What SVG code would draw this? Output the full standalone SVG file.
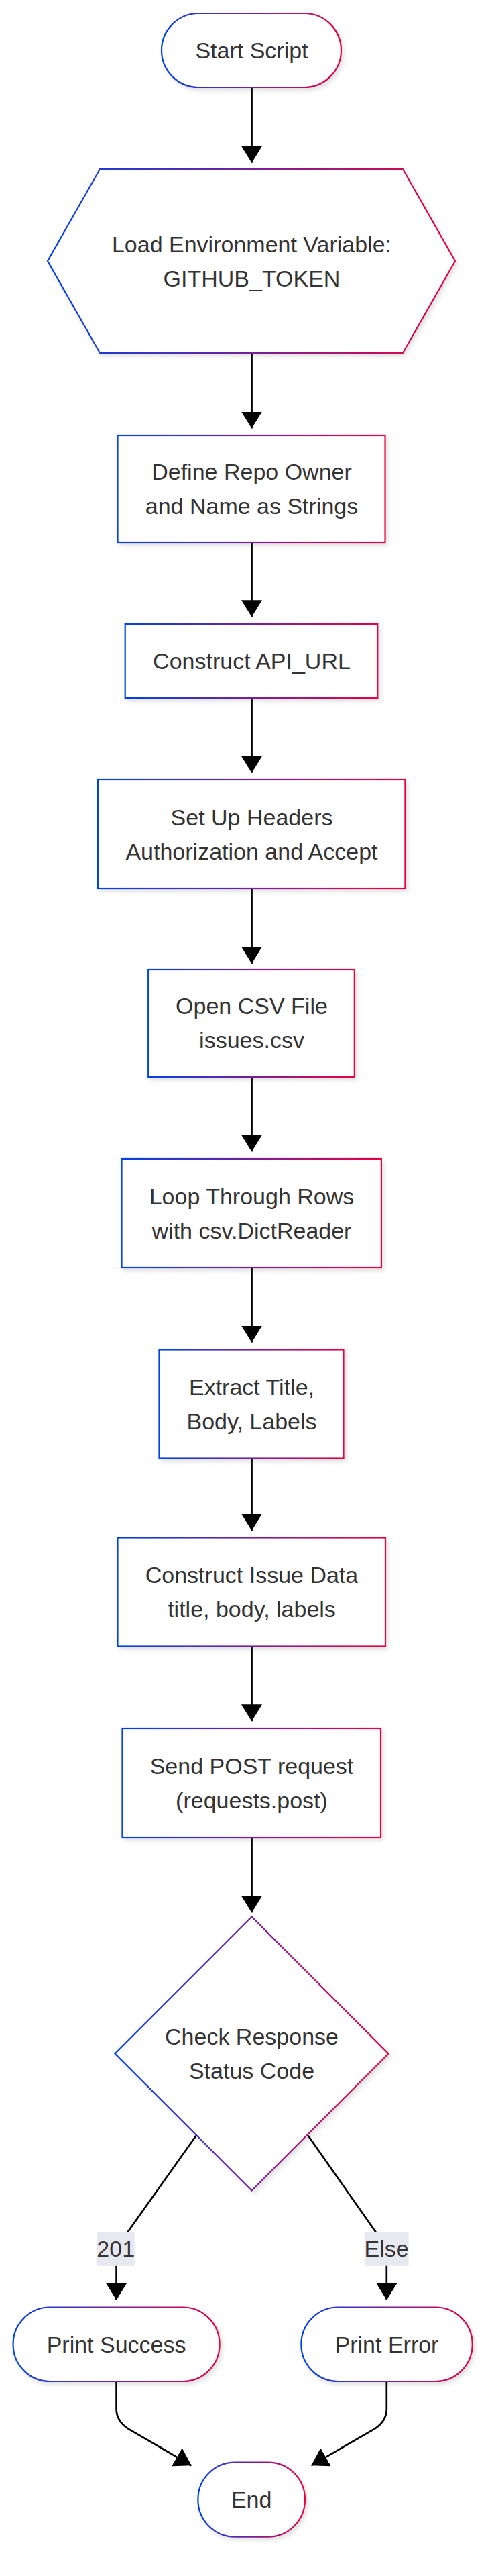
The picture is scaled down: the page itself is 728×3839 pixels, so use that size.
<svg xmlns="http://www.w3.org/2000/svg" width="728" height="3839" viewBox="0 0 728 3839">
<defs>
<linearGradient id="grad" x1="0" y1="0" x2="1" y2="0">
<stop offset="0" stop-color="#0042eb"/>
<stop offset="1" stop-color="#eb0042"/>
</linearGradient>
<filter id="shadow" x="-10%" y="-10%" width="130%" height="140%">
<feDropShadow dx="3" dy="4" stdDeviation="3" flood-color="#000" flood-opacity="0.12"/>
</filter>
<marker id="arrow" markerUnits="userSpaceOnUse" viewBox="0 0 25 31" markerWidth="25" markerHeight="31" refX="25" refY="15.5" orient="auto">
<path d="M0,0 L25,15.5 L0,31 z" fill="#000"/>
</marker>
<style>
.node rect, .node polygon { fill: #ffffff; stroke: url(#grad); stroke-width: 2.2; filter: url(#shadow); }
.node text, .lbl text { font-family: "Liberation Sans", Arial, sans-serif; font-size: 34px; fill: #333333; text-anchor: middle; dominant-baseline: central; }
.edge { fill: none; stroke: #000; stroke-width: 2.7; marker-end: url(#arrow); }
.lbl rect { fill: #e8e8f0; }
</style>
</defs>
<rect x="0" y="0" width="728" height="3839" fill="#ffffff"/>

<g id="connectors">
<path class="edge" d="M375.5,130 L375.5,242.7"/>
<path class="edge" d="M375.5,526 L375.5,638.5"/>
<path class="edge" d="M375.5,808 L375.5,919.3"/>
<path class="edge" d="M375.5,1040 L375.5,1151.8"/>
<path class="edge" d="M375.5,1324 L375.5,1436"/>
<path class="edge" d="M375.5,1605 L375.5,1716.4"/>
<path class="edge" d="M375.5,1889 L375.5,2000.6"/>
<path class="edge" d="M375.5,2173.5 L375.5,2281"/>
<path class="edge" d="M375.5,2453.5 L375.5,2565.3"/>
<path class="edge" d="M375.5,2738 L375.5,2850.4"/>
<path class="edge" d="M292.6,3182.7 L183,3337 Q173.6,3350 173.6,3365 L173.6,3427.7"/>
<path class="edge" d="M459.7,3182.7 L568,3337 Q576.8,3350 576.8,3365 L576.8,3427.7"/>
<path class="edge" d="M173.6,3549 L173.6,3590 Q173.6,3608 191.3,3619.7 L285.6,3674.3"/>
<path class="edge" d="M576.8,3549 L576.8,3590 Q576.8,3608 559,3619.7 L464.4,3674.3"/>
<g id="label-201" class="lbl">
<rect x="144.7" y="3326" width="56" height="50.8"/>
<text x="172.7" y="3351.4">201</text>
</g>
<g id="label-else" class="lbl">
<rect x="543.7" y="3326" width="65.8" height="50.8"/>
<text x="576.6" y="3351.4">Else</text>
</g>
</g>

<g id="start" class="node">
<rect x="241" y="20" width="268" height="110" rx="55" ry="55"/>
<text x="375.5" y="75">Start Script</text>
</g>
<g id="load-env" class="node">
<polygon points="149,252 601,252 679,389 601,526 149,526 71,389"/>
<text x="375.5" y="363.5">Load Environment Variable:</text>
<text x="375.5" y="414.5">GITHUB_TOKEN</text>
</g>
<g id="define-repo" class="node">
<rect x="175.5" y="649" width="399" height="159"/>
<text x="375.5" y="703">Define Repo Owner</text>
<text x="375.5" y="754">and Name as Strings</text>
</g>
<g id="construct-url" class="node">
<rect x="186.7" y="930" width="376.6" height="110"/>
<text x="375.5" y="985">Construct API_URL</text>
</g>
<g id="headers" class="node">
<rect x="146" y="1162" width="458.4" height="162"/>
<text x="375.5" y="1217.5">Set Up Headers</text>
<text x="375.5" y="1268.5">Authorization and Accept</text>
</g>
<g id="open-csv" class="node">
<rect x="221.2" y="1445" width="307.6" height="160"/>
<text x="375.5" y="1499">Open CSV File</text>
<text x="375.5" y="1550">issues.csv</text>
</g>
<g id="loop-rows" class="node">
<rect x="181.5" y="1727" width="387.4" height="162"/>
<text x="375.5" y="1782.5">Loop Through Rows</text>
<text x="375.5" y="1833.5">with csv.DictReader</text>
</g>
<g id="extract" class="node">
<rect x="237.5" y="2011.5" width="275" height="162"/>
<text x="375.5" y="2067">Extract Title,</text>
<text x="375.5" y="2118">Body, Labels</text>
</g>
<g id="issue-data" class="node">
<rect x="175.5" y="2291.5" width="399.5" height="162"/>
<text x="375.5" y="2347">Construct Issue Data</text>
<text x="375.5" y="2398">title, body, labels</text>
</g>
<g id="send-post" class="node">
<rect x="182.5" y="2576" width="385.5" height="162"/>
<text x="375.5" y="2631.5">Send POST request</text>
<text x="375.5" y="2682.5">(requests.post)</text>
</g>
<g id="check-status" class="node">
<polygon points="375.5,2856.5 579.5,3060.5 375.5,3264.5 171.5,3060.5"/>
<text x="375.5" y="3034.5">Check Response</text>
<text x="375.5" y="3085.5">Status Code</text>
</g>
<g id="print-success" class="node">
<rect x="19.6" y="3438.5" width="308" height="110.5" rx="55" ry="55"/>
<text x="173.6" y="3493.7">Print Success</text>
</g>
<g id="print-error" class="node">
<rect x="449.4" y="3438.5" width="255.3" height="110.5" rx="55" ry="55"/>
<text x="577" y="3493.7">Print Error</text>
</g>
<g id="end" class="node">
<rect x="295.4" y="3669.6" width="159.6" height="111" rx="55" ry="55"/>
<text x="375.2" y="3725">End</text>
</g>
</svg>
